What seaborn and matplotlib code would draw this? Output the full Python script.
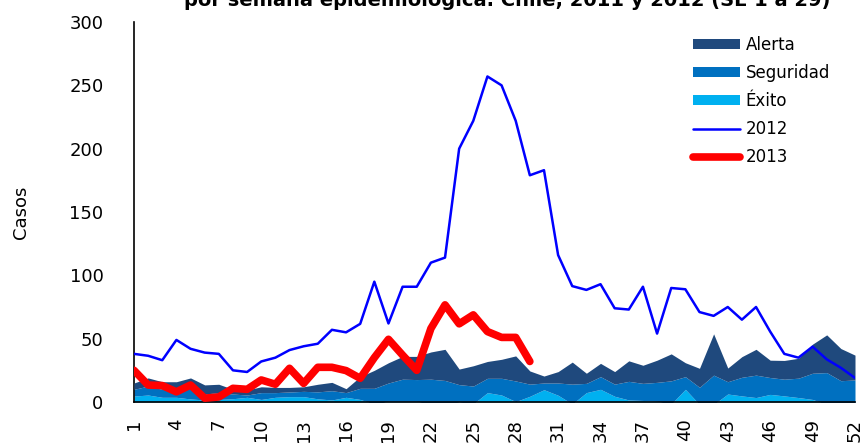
import numpy as np
import pandas as pd
import matplotlib
matplotlib.use("Agg")
import matplotlib.pyplot as plt
from matplotlib.patches import Patch
from matplotlib.lines import Line2D
import seaborn as sns

weeks = list(range(1, 53))

# Endemic channel levels (top of each band)
exito = [4.7, 5.5, 3.7, 3.7, 2.4, 1.6, 2.0, 2.6, 3.7, 2.0, 3.7, 4.2, 4.2, 2.5, 1.6, 3.7, 2.0,
         -1.6, 0.5, 0.5, 0.5, -2.0, -2.0, 0.0, -1.5, 7.4, 5.5, 0.3, 4.5, 9.7, 5.3, -1.6, 7.4,
         10.0, 4.5, 1.6, 1.2, 0.5, -1.6, 10.0, -2.0, -2.0, 6.3, 4.8, 3.5, 6.0, 4.8, 3.5, 2.0,
         -2.0, -2.0, -1.5]
seguridad = [10.0, 12.6, 10.0, 9.5, 10.8, 6.3, 7.4, 6.3, 5.5, 7.4, 7.4, 7.9, 8.4, 8.0, 8.9, 7.4,
             10.8, 10.8, 15.0, 18.0, 17.7, 18.0, 17.0, 13.7, 12.6, 18.7, 18.7, 16.6, 14.1, 15.0,
             15.0, 14.1, 14.7, 20.0, 14.1, 16.3, 14.7, 15.5, 16.7, 20.0, 11.6, 21.2, 16.0, 19.5,
             21.2, 19.3, 18.0, 18.8, 22.7, 23.2, 16.8, 17.4]
alerta = [15.0, 19.0, 16.0, 16.0, 19.0, 13.5, 14.0, 10.0, 9.5, 12.0, 11.5, 11.5, 12.0, 14.0, 15.5,
          10.5, 20.0, 25.0, 31.0, 36.0, 36.0, 39.5, 41.6, 26.0, 28.6, 32.0, 33.7, 36.4, 24.5, 20.5,
          24.0, 31.5, 22.7, 30.5, 24.0, 32.5, 29.0, 33.0, 38.0, 31.0, 26.6, 53.8, 26.8, 35.8, 41.6,
          33.0, 32.8, 34.5, 45.7, 53.0, 42.2, 37.0]

casos_2012 = [38, 36.5, 33, 49, 42, 39, 38, 25, 23.7, 32, 35, 41, 44, 46, 57, 55, 61.7, 95, 62, 91,
              91, 110, 114, 200, 222, 257, 250, 222, 179, 183, 116, 91.5, 88.5, 93, 74, 73, 91, 54,
              90, 89, 71, 68, 75, 65, 75, 55.6, 38, 35, 43.7, 33.7, 27, 19]
weeks_2013 = list(range(1, 30))
casos_2013 = [25, 13.4, 13, 8, 13.4, 3, 4, 10.8, 10, 17.4, 14, 26.6, 14.7, 27.4, 27.4, 24.8, 18.7,
              35, 49.5, 37, 25, 58, 76.7, 61.7, 68.8, 55.6, 51, 51, 32]

yticks = [0, 50, 100, 150, 200, 250, 300]
xlabel_weeks = list(range(1, 53, 3))

title = "por semana epidemiológica. Chile, 2011 y 2012 (SE 1 a 29)"

c_alerta = "#1F497D"
c_seg = "#0070C0"
c_exito = "#00B0F0"
c_2012 = "#0000FF"
c_2013 = "#FF0000"

sns.set_style("white")
plt.rcParams["font.family"] = ["DejaVu Sans"]
plt.rcParams["text.color"] = "black"
plt.rcParams["xtick.color"] = "black"
plt.rcParams["ytick.color"] = "black"
plt.rcParams["axes.labelcolor"] = "black"

fig = plt.figure(figsize=(8.65, 4.43), dpi=100)
ax = fig.add_axes([134 / 865, 1 - 402 / 443, (855 - 134) / 865, (402 - 22) / 443])

w = np.array(weeks, dtype=float)
e = np.array(exito)
s = np.array(seguridad)
a = np.array(alerta)
ax.fill_between(w, 0, e, color=c_exito, lw=0, zorder=1)
ax.fill_between(w, e, s, color=c_seg, lw=0, zorder=2)
ax.fill_between(w, s, a, color=c_alerta, lw=0, zorder=3)

df12 = pd.DataFrame({"semana": weeks, "casos": casos_2012})
df13 = pd.DataFrame({"semana": weeks_2013, "casos": casos_2013})
sns.lineplot(data=df12, x="semana", y="casos", color=c_2012, lw=1.8, ax=ax, zorder=4)
sns.lineplot(data=df13, x="semana", y="casos", color=c_2013, lw=5.5, ax=ax, zorder=5,
             solid_capstyle="round", solid_joinstyle="round")

ax.set_xlim(1, 52)
ax.set_ylim(0, 300)
ax.set_yticks(yticks)
ax.set_yticklabels([str(v) for v in yticks], fontsize=13)
ax.set_xticks(weeks)
ax.set_xticklabels([str(v) if v in xlabel_weeks else "" for v in weeks], rotation=90, fontsize=13)
ax.tick_params(axis="both", direction="out", length=5, width=1, color="#808080")
ax.tick_params(axis="y", pad=17)
ax.tick_params(axis="x", pad=7)
ax.set_xlabel("")
ax.set_ylabel("Casos", fontsize=13, labelpad=28)
for sp in ["top", "right"]:
    ax.spines[sp].set_visible(False)
for sp in ["left", "bottom"]:
    ax.spines[sp].set_color("black")
    ax.spines[sp].set_linewidth(1.2)
ax.grid(False)

handles = [
    Patch(facecolor=c_alerta, edgecolor="none", label="Alerta"),
    Patch(facecolor=c_seg, edgecolor="none", label="Seguridad"),
    Patch(facecolor=c_exito, edgecolor="none", label="Éxito"),
    Line2D([], [], color=c_2012, lw=1.8, label="2012"),
    Line2D([], [], color=c_2013, lw=5.5, solid_capstyle="round", label="2013"),
]
fig.legend(handles=handles, loc="upper left", bbox_to_anchor=(693 / 865, 1 - 36 / 443),
           frameon=False, fontsize=12, handlelength=2.8, handleheight=0.5,
           labelspacing=0.6, borderpad=0, borderaxespad=0, handletextpad=0.35)

fig.text(507 / 865, 1 - 6.5 / 443, title, ha="center", va="baseline",
         fontsize=14, fontweight="bold")

fig.savefig("out.png", dpi=100)
